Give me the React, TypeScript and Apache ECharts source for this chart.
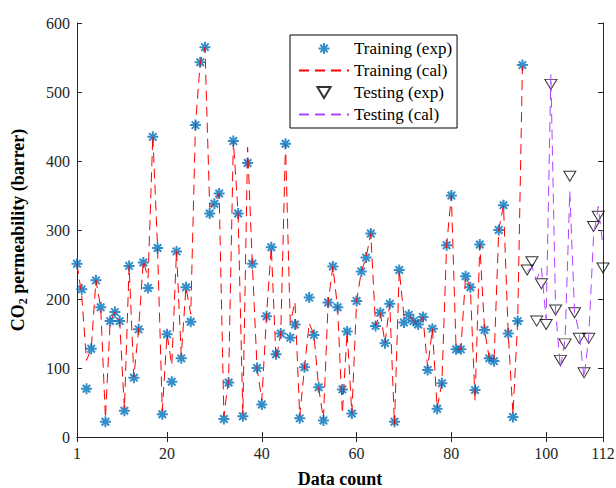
import React, { useEffect, useRef } from "react";
import * as echarts from "echarts";

const trainExp = [
  251, 214, 70, 128, 227, 188, 22, 168, 181, 168,
  38, 248, 86, 156, 253, 216, 435, 274, 33, 149,
  80, 269, 114, 217, 167, 452, 543, 565, 324, 338,
  353, 26, 79, 429, 324, 30, 397, 251, 100, 47,
  175, 275, 120, 150, 425, 144, 163, 27, 101, 202,
  148, 72, 24, 195, 247, 188, 69, 153, 34, 197,
  240, 260, 295, 161, 180, 136, 193, 22, 242, 166,
  177, 168, 163, 174, 97, 157, 41, 78, 278, 350,
  127, 127, 233, 217, 68, 279, 155, 114, 110, 300,
  336, 150, 29, 168, 539,
];
const trainCal = [
  251, 205, 111, 128, 227, 188, 27, 168, 181, 168,
  41, 248, 87, 156, 256, 230, 437, 274, 38, 149,
  104, 269, 118, 217, 178, 452, 543, 565, 333, 338,
  353, 30, 85, 429, 324, 33, 420, 251, 100, 53,
  177, 275, 112, 150, 425, 165, 196, 30, 100, 165,
  148, 71, 26, 195, 247, 187, 34, 153, 34, 197,
  240, 260, 295, 161, 180, 136, 193, 18, 242, 175,
  177, 168, 163, 174, 100, 157, 42, 78, 278, 350,
  127, 127, 233, 217, 53, 279, 155, 114, 110, 300,
  336, 150, 33, 168, 537,
];
const testExp = [242, 254, 168, 222, 163, 511, 184, 111, 135, 378, 180, 143, 93, 143, 305, 320, 245];
const testCal = [240, 246, 228, 245, 170, 525, 184, 100, 141, 356, 180, 150, 85, 146, 290, 334, 276];
const xTicks = [1, 20, 40, 60, 80, 100, 112];
const yTicks = [0, 100, 200, 300, 400, 500, 600];

const FONT = "'Liberation Serif', 'DejaVu Serif', serif";
const AX = "#262626";
const STAR = "path://M5,0L5,10M0,5L10,5M1.6,1.6L8.4,8.4M1.6,8.4L8.4,1.6";
const TRI = "path://M0,0L12,0L6,10Z";
const CLEAR = "rgba(0,0,0,0)";

export default function App() {
  const ref = useRef<HTMLDivElement>(null);
  useEffect(() => {
    if (!ref.current) return;
    const chart = echarts.init(ref.current, null, { renderer: "svg" });
    const trainStart = 1;
    const testStart = trainExp.length + 1;
    const trE = trainExp.map((v, i) => [trainStart + i, v]);
    const trC = trainCal.map((v, i) => [trainStart + i, v]);
    const teE = testExp.map((v, i) => [testStart + i, v]);
    const teC = testCal.map((v, i) => [testStart + i, v]);
    const baseX = {
      type: "value",
      min: xTicks[0],
      max: xTicks[xTicks.length - 1],
      splitLine: { show: false },
      axisLine: { show: true, lineStyle: { color: AX, width: 1 } },
    };
    const baseY = {
      type: "value",
      min: yTicks[0],
      max: yTicks[yTicks.length - 1],
      interval: 100,
      splitLine: { show: false },
      axisLine: { show: true, onZero: false, lineStyle: { color: AX, width: 1 } },
    };
    chart.setOption({
      animation: false,
      backgroundColor: "#ffffff",
      textStyle: { fontFamily: FONT },
      grid: { left: 77, right: 13, top: 23, bottom: 51, outerBoundsMode: "none" },
      legend: {
        orient: "vertical",
        left: 290,
        top: 35,
        padding: [5, 5, 5, 8],
        itemGap: 5,
        itemWidth: 50,
        itemHeight: 11,
        borderColor: "#000",
        borderWidth: 1,
        backgroundColor: "#fff",
        textStyle: { fontFamily: FONT, fontSize: 17, lineHeight: 16, color: "#000" },
        data: [
          { name: "Training (exp)" },
          { name: "Training (cal)", itemStyle: { color: CLEAR, borderWidth: 0 } },
          { name: "Testing (exp)" },
          { name: "Testing (cal)", itemStyle: { color: CLEAR, borderWidth: 0 } },
        ],
      },
      xAxis: [
        {
          ...baseX,
          position: "bottom",
          name: "Data count",
          nameLocation: "middle",
          nameGap: 33,
          nameTextStyle: { fontFamily: FONT, fontSize: 18, fontWeight: "bold", color: "#000" },
          axisTick: { show: true, inside: true, length: 5, customValues: xTicks, lineStyle: { color: AX } },
          axisLabel: { show: true, customValues: xTicks, margin: 8, fontFamily: FONT, fontSize: 16, color: AX },
        },
        {
          ...baseX,
          position: "top",
          axisTick: { show: true, inside: true, length: 5, customValues: xTicks, lineStyle: { color: AX } },
          axisLabel: { show: false },
        },
      ],
      yAxis: [
        {
          ...baseY,
          position: "left",
          name: "{b|CO}{s|2}{b| permeability (barrer)}",
          nameLocation: "middle",
          nameGap: 48,
          nameRotate: 90,
          nameTextStyle: {
            color: "#000",
            rich: {
              b: { fontFamily: FONT, fontSize: 18, fontWeight: "bold", color: "#000", lineHeight: 22 },
              s: { fontFamily: FONT, fontSize: 12, fontWeight: "bold", color: "#000", verticalAlign: "bottom", lineHeight: 14, padding: [8, 0, 0, 0] },
            },
          },
          axisTick: { show: true, inside: true, length: 5, lineStyle: { color: AX } },
          axisLabel: { show: true, margin: 7, fontFamily: FONT, fontSize: 16, color: AX },
        },
        {
          ...baseY,
          position: "right",
          axisTick: { show: true, inside: true, length: 5, lineStyle: { color: AX } },
          axisLabel: { show: false },
        },
      ],
      series: [
        {
          name: "Training (exp)",
          type: "scatter",
          data: trE,
          symbol: STAR,
          symbolSize: 11,
          itemStyle: { color: "#0072BD", borderColor: "#0072BD", borderWidth: 2 },
          z: 2,
        },
        {
          name: "Training (cal)",
          type: "line",
          data: trC,
          symbol: "none",
          lineStyle: { color: "#FF0000", width: 1, type: [10, 6] },
          itemStyle: { color: CLEAR, borderWidth: 0 },
          z: 3,
        },
        {
          name: "Testing (exp)",
          type: "scatter",
          data: teE,
          symbol: TRI,
          symbolSize: [12, 10],
          itemStyle: { color: CLEAR, borderColor: "#000", borderWidth: 1 },
          z: 2,
        },
        {
          name: "Testing (cal)",
          type: "line",
          data: teC,
          symbol: "none",
          lineStyle: { color: "#B342FF", width: 1, type: [10, 6] },
          itemStyle: { color: CLEAR, borderWidth: 0 },
          z: 3,
        },
      ],
    });
    return () => chart.dispose();
  }, []);
  return (
    <div
      ref={ref}
      style={{ position: "fixed", left: 0, top: 0, width: 616, height: 488, background: "#fff" }}
    />
  );
}
